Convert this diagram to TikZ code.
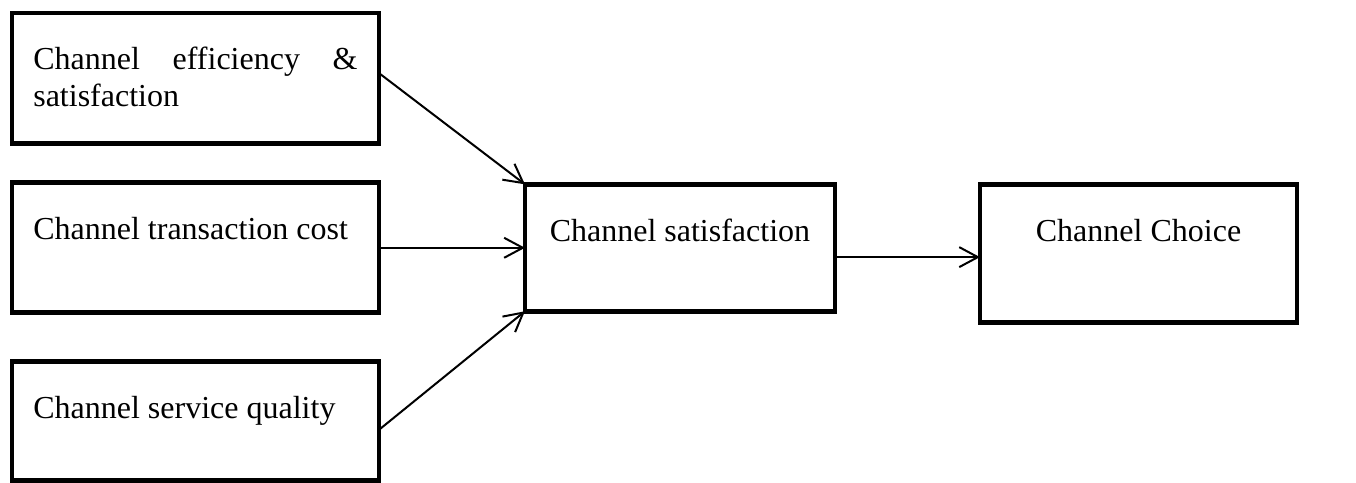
\documentclass[tikz,border=0pt]{standalone}
\usepackage{fontspec}
\setmainfont{Liberation Serif}
\usepackage{tikz}
\usetikzlibrary{arrows.meta,positioning}
\hyphenpenalty=10000

\begin{document}
\begin{tikzpicture}[
    factor/.style={rectangle, draw, line width=1.8pt, outer sep=0pt, inner xsep=8pt, inner ysep=0pt, text width=121.6pt, align=justify, text height=21.4pt, font=\fontsize{12}{13.8}\selectfont},
    block/.style={rectangle, draw, line width=1.8pt, outer sep=0pt, inner sep=0pt, align=center, text height=21.4pt, font=\fontsize{12}{13.8}\selectfont},
    arrow/.style={-{Straight Barb[length=7pt,width=7.5pt]}, line width=0.75pt},
]
    \useasboundingbox (-73.3pt,29.4pt) rectangle (435.2pt,-151.7pt);

    \node[factor, text depth=27.7pt] (effic) {Channel efficiency \& satisfaction};

    \node[factor, text depth=27.35pt, below=14.6pt of effic] (cost) {Channel transaction cost};

    \node[factor, text depth=23.2pt, below=18.4pt of cost] (service) {Channel service quality};

    \node[block, minimum width=116.25pt, text depth=26.2pt, right=54.75pt of cost] (satis) {Channel satisfaction};

    \node[block, minimum width=118.9pt, text depth=30.35pt, right=54.4pt of satis.north east, anchor=north west] (choice) {Channel Choice};

    \draw[arrow] ([yshift=2pt]effic.east) -- (satis.north west);
    \draw[arrow] (cost) -- (satis);
    \draw[arrow] ([yshift=-3.2pt]service.east) -- (satis.south west);
    \draw[arrow] ([yshift=-3.5pt]satis.east) -- ([yshift=-3.5pt]satis.east -| choice.west);
\end{tikzpicture}
\end{document}
